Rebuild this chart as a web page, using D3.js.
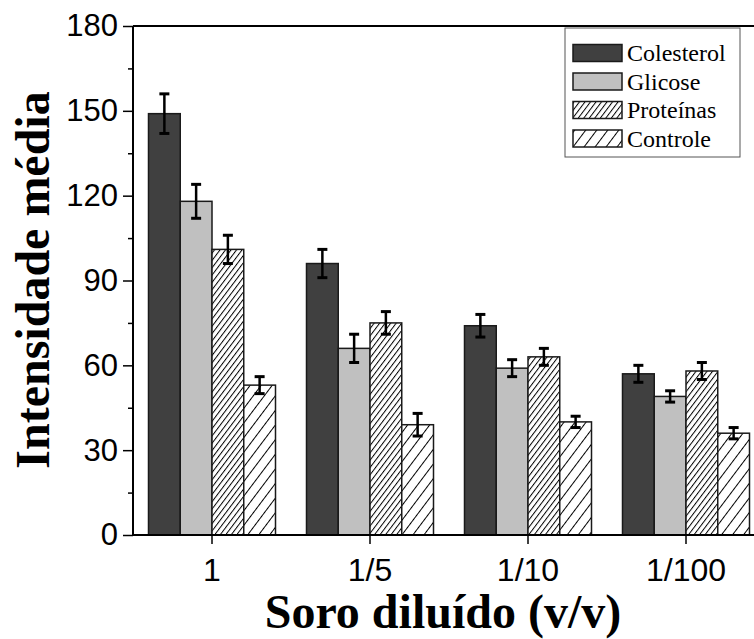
<!DOCTYPE html>
<html>
<head>
<meta charset="utf-8">
<script src="https://cdn.jsdelivr.net/npm/d3@7/dist/d3.min.js"></script>
<style>
  html, body { margin: 0; padding: 0; background: #fff; }
  svg { display: block; }
</style>
</head>
<body>
<svg id="chart" width="754" height="639"></svg>
<script>
// Dilution levels on the x axis
const categories = ["1", "1/5", "1/10", "1/100"];
// Series names (legend order)
const seriesNames = ["Colesterol", "Glicose", "Proteínas", "Controle"];
// Mean intensity per dilution, one array per series
const colesterol = [149, 96, 74, 57];
const glicose    = [118, 66, 59, 49];
const proteinas  = [101, 75, 63, 58];
const controle   = [53, 39, 40, 36];
// Error bar half-widths per series
const colesterolErr = [7, 5, 4, 3];
const glicoseErr    = [6, 5, 3, 2];
const proteinasErr  = [5, 4, 3, 3];
const controleErr   = [3, 4, 2, 2];
// Y axis ticks
const yTicks = [0, 30, 60, 90, 120, 150, 180];
const yMinorTicks = [15, 45, 75, 105, 135, 165];

const seriesValues = [colesterol, glicose, proteinas, controle];
const seriesErrors = [colesterolErr, glicoseErr, proteinasErr, controleErr];

const svg = d3.select("#chart");
const plotLeft = 133, plotBottom = 535, plotTop = 26, plotRight = 754;

const x0 = d3.scaleBand().domain(categories).range([plotLeft, plotLeft + 4 * 158]).padding(0);
const x1 = d3.scaleBand().domain(seriesNames)
  .range([(x0.bandwidth() - 127) / 2, (x0.bandwidth() + 127) / 2]).padding(0);
const y = d3.scaleLinear().domain([0, 180]).range([plotBottom, plotTop]);

// Hatch patterns
const defs = svg.append("defs");
function hatch(id, spacing) {
  const p = defs.append("pattern")
    .attr("id", id)
    .attr("patternUnits", "userSpaceOnUse")
    .attr("width", spacing).attr("height", spacing)
    .attr("patternTransform", "rotate(37)");
  p.append("rect").attr("width", spacing).attr("height", spacing).attr("fill", "#fff");
  p.append("line").attr("x1", 0.5).attr("y1", 0).attr("x2", 0.5).attr("y2", spacing)
    .attr("stroke", "#000").attr("stroke-width", 1);
}
hatch("hatchDense", 4.4);
hatch("hatchSparse", 8.8);

const fills = ["#404040", "#c0c0c0", "url(#hatchDense)", "url(#hatchSparse)"];

const rows = [];
categories.forEach((c, i) => {
  seriesNames.forEach((s, j) => {
    rows.push({ cat: c, series: s, j, value: seriesValues[j][i], err: seriesErrors[j][i] });
  });
});

const plot = svg.append("g");

// Bars
plot.selectAll("rect.bar").data(rows).join("rect")
  .attr("class", "bar")
  .attr("x", d => x0(d.cat) + x1(d.series))
  .attr("y", d => y(d.value))
  .attr("width", x1.bandwidth())
  .attr("height", d => y(0) - y(d.value))
  .attr("fill", d => fills[d.j])
  .attr("stroke", "#1a1a1a")
  .attr("stroke-width", 1.5);

// Error bars
const cx = d => x0(d.cat) + x1(d.series) + x1.bandwidth() / 2;
const eb = plot.selectAll("g.err").data(rows).join("g").attr("class", "err");
eb.append("line")
  .attr("x1", cx).attr("x2", cx)
  .attr("y1", d => y(d.value - d.err))
  .attr("y2", d => y(d.value + d.err))
  .attr("stroke", "#000").attr("stroke-width", 2.5);
[-1, 1].forEach(sign => {
  eb.append("line")
    .attr("x1", d => cx(d) - 5)
    .attr("x2", d => cx(d) + 5)
    .attr("y1", d => y(d.value + sign * d.err))
    .attr("y2", d => y(d.value + sign * d.err))
    .attr("stroke", "#000").attr("stroke-width", 3);
});

// Axes
const tickFont = "'Liberation Sans', Arial, sans-serif";
const yAxis = svg.append("g").attr("transform", `translate(${plotLeft},0)`)
  .call(d3.axisLeft(y).tickValues(yTicks).tickSize(10).tickPadding(5).tickFormat(d3.format("d")));
svg.append("g").attr("transform", `translate(${plotLeft},0)`)
  .call(d3.axisLeft(y).tickValues(yMinorTicks).tickSize(5).tickFormat(""))
  .call(g => g.select(".domain").remove());
const xAxis = svg.append("g").attr("transform", `translate(0,${plotBottom})`)
  .call(d3.axisBottom(x0).tickSize(9).tickPadding(14).tickSizeOuter(0));

svg.selectAll(".tick line").attr("stroke", "#000").attr("stroke-width", 1.5);
svg.selectAll(".domain").attr("stroke", "#000").attr("stroke-width", 2);
yAxis.select(".domain").attr("d", `M0,${plotBottom}V${plotTop}`);
xAxis.select(".domain").attr("d", `M${plotLeft},0H${plotRight}`);
svg.selectAll(".tick text")
  .attr("fill", "#000")
  .style("font-family", tickFont);
yAxis.selectAll(".tick text").style("font-size", "31px");
xAxis.selectAll(".tick text").style("font-size", "32px");

// Top frame line
svg.append("line")
  .attr("x1", plotLeft).attr("x2", plotRight)
  .attr("y1", plotTop).attr("y2", plotTop)
  .attr("stroke", "#000").attr("stroke-width", 2);

// Axis titles
const titleFont = "'Liberation Serif', 'Times New Roman', serif";
svg.append("text")
  .attr("x", 443).attr("y", 628)
  .attr("text-anchor", "middle")
  .style("font-family", titleFont).style("font-weight", "bold").style("font-size", "48px")
  .text("Soro diluído (v/v)");
svg.append("text")
  .attr("transform", "translate(49,280) rotate(-90)")
  .attr("text-anchor", "middle")
  .style("font-family", titleFont).style("font-weight", "bold").style("font-size", "48px")
  .text("Intensidade média");

// Legend
const legend = svg.append("g");
legend.append("rect")
  .attr("x", 565).attr("y", 28).attr("width", 175).attr("height", 129)
  .attr("fill", "#fff").attr("stroke", "#555").attr("stroke-width", 1);
const rowY = [53, 81.5, 110, 138.5];
seriesNames.forEach((s, j) => {
  legend.append("rect")
    .attr("x", 573).attr("y", rowY[j] - 8.5).attr("width", 49).attr("height", 17)
    .attr("fill", fills[j]).attr("stroke", "#1a1a1a").attr("stroke-width", 1.5);
  legend.append("text")
    .attr("x", 627).attr("y", rowY[j]).attr("dy", "0.35em")
    .style("font-family", titleFont).style("font-size", "24px")
    .text(s);
});
</script>
</body>
</html>
